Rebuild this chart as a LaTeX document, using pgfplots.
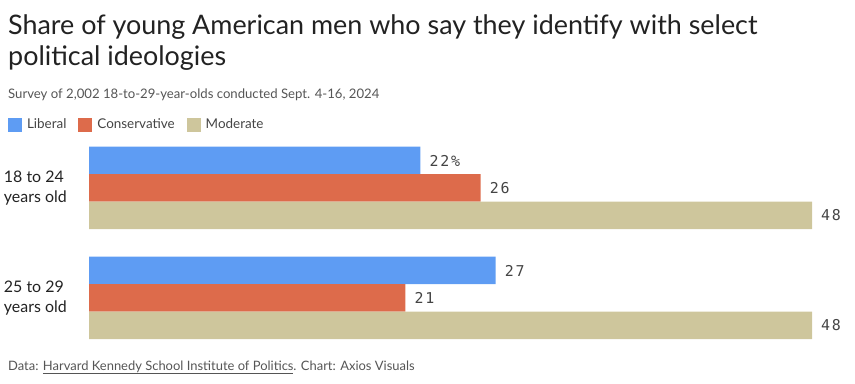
\documentclass[border=0pt]{standalone}
\usepackage{fontspec}
\setmainfont{Lato}
\newfontfamily\monof[LetterSpace=12]{DejaVu Sans Mono}
\usepackage{pgfplots}
\pgfplotsset{compat=1.18}
\definecolor{lib}{HTML}{5E9CF3}
\definecolor{con}{HTML}{DD6B4B}
\definecolor{mod}{HTML}{CEC69C}
\definecolor{titlec}{HTML}{222222}
\definecolor{subc}{HTML}{555555}
\definecolor{labc}{HTML}{444444}
\begin{document}
\begin{tikzpicture}
\useasboundingbox (0,0) rectangle (855bp,384bp);
\node[anchor=base west, inner sep=0, font=\fontsize{27}{30}\selectfont, text=titlec] at (8bp,349.5bp) {Share of young American men who say they identify with select};
\node[anchor=base west, inner sep=0, font=\fontsize{27}{30}\selectfont, text=titlec] at (8bp,318bp) {political ideologies};
\node[anchor=base west, inner sep=0, font=\fontsize{13.2}{15}\selectfont, text=subc] at (8bp,285bp) {Survey of 2,002 18-to-29-year-olds conducted Sept. 4-16, 2024};
\node[anchor=base west, inner sep=0, font=\fontsize{13}{15}\selectfont, text=subc] at (8bp,14bp) {Data: \underline{Harvard Kennedy School Institute of Politics}. Chart: Axios Visuals};
\begin{axis}[
  at={(89bp,31bp)}, anchor=south west,
  xbar, x=15.0625bp, y=110bp, xmin=0, xmax=48, ymin=-0.5, ymax=1.5,
  bar width=27.5bp,
  axis line style={draw=none}, tick style={draw=none}, xtick=\empty,
  ytick={0,1}, yticklabels={{25 to 29\\years old},{18 to 24\\years old}},
  yticklabel style={align=left, anchor=west, inner sep=0pt, xshift=-81bp, font=\fontsize{16}{19.5}\selectfont, text=titlec},
  clip=false,
  nodes near coords, point meta=explicit symbolic,
  nodes near coords style={anchor=west, inner sep=0pt, xshift=9bp, font=\monof\fontsize{15}{15}\selectfont, text=labc},
  legend style={at={(-0.112,1.0727)}, anchor=north west, draw=none, fill=none, inner sep=0pt, outer sep=0pt,
    legend columns=-1, font=\fontsize{13.5}{15}\selectfont, text=labc,
    /tikz/every even column/.append style={column sep=10bp}},
  legend cell align=left,
  legend image code/.code={\fill[#1] (0bp,-7bp) rectangle (14bp,7bp); \path (17bp,0bp);},
]
\addplot[fill=lib, draw=none, bar shift=27.5bp] coordinates {(22,1) [22\%] (27,0) [27]};
\addplot[fill=con, draw=none, bar shift=0bp] coordinates {(26,1) [26] (21,0) [21]};
\addplot[fill=mod, draw=none, bar shift=-27.5bp] coordinates {(48,1) [48] (48,0) [48]};
\legend{Liberal, Conservative, Moderate}
\end{axis}
\end{tikzpicture}
\end{document}
